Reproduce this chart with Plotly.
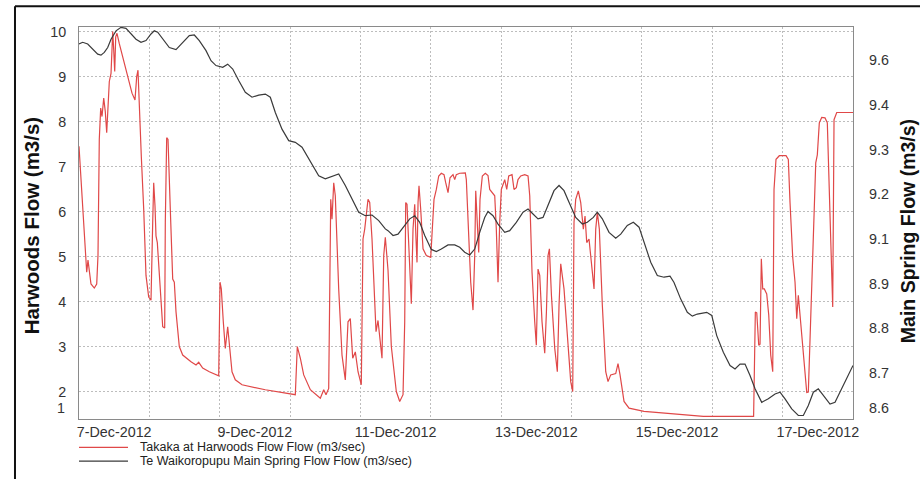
import pandas as pd
import plotly.graph_objects as go

START = pd.Timestamp("2012-12-07 00:00")

# ---- Takaka at Harwoods flow (left axis), hours since 7-Dec-2012 00:00 ----
harwoods_hours = [
    0.0, 1.26, 2.15, 2.63, 3.07, 3.51, 4.09, 5.22, 6.04, 6.48, 6.92, 7.40, 7.85, 8.43, 8.97,
    9.45, 9.99, 10.34, 10.92, 11.50, 11.84, 12.18, 12.52, 12.96, 13.75, 14.91, 16.61, 18.08,
    19.10, 19.68, 20.12, 20.57, 21.25, 22.07, 22.85, 23.77, 24.56, 25.14, 25.48, 25.92, 26.26,
    26.71, 27.63, 28.55, 29.23, 29.44, 29.91, 30.36, 31.14, 31.96, 32.51, 33.09, 34.21, 35.37,
    38.20, 39.91, 40.83, 42.19, 44.45, 47.65, 48.10, 48.54, 49.22, 49.90, 50.72, 51.27, 52.19,
    53.31, 55.60, 63.55, 73.78, 74.46, 75.49, 76.65, 78.90, 82.31, 83.47, 84.25, 85.17, 85.86,
    86.30, 86.88, 87.42, 88.58, 89.71, 90.83, 91.76, 92.54, 93.36, 94.25, 95.17, 96.29, 96.87,
    97.45, 97.90, 98.58, 99.16, 99.94, 101.31, 101.99, 103.35, 103.94, 104.48, 105.40, 106.53,
    108.23, 109.39, 110.52, 111.10, 111.44, 111.88, 112.57, 113.35, 113.93, 114.51, 114.95,
    115.29, 115.64, 115.97, 116.55, 117.34, 118.47, 119.97, 120.51, 121.09, 121.88, 122.70,
    123.58, 124.50, 125.08, 125.87, 126.55, 127.57, 128.15, 128.70, 129.86, 131.77, 132.11,
    132.69, 133.61, 134.39, 134.97, 135.32, 135.86, 136.34, 136.78, 137.57, 138.59, 139.51,
    140.09, 140.87, 141.80, 142.34, 142.92, 143.50, 144.05, 145.21, 145.89, 146.57, 147.70,
    148.38, 149.16, 149.74, 150.67, 152.03, 153.16, 153.74, 154.52, 155.44, 155.99, 156.57,
    157.15, 157.93, 158.85, 159.43, 159.98, 160.45, 161.14, 162.27, 163.15, 163.73, 164.31,
    165.43, 166.56, 167.72, 168.40, 168.84, 169.42, 170.31, 171.13, 172.02, 172.60, 173.18,
    173.96, 174.74, 175.67, 176.25, 176.79, 177.48, 178.50, 179.66, 180.44, 181.36, 183.07,
    183.85, 184.54, 185.90, 187.61, 192.72, 204.08, 212.95, 229.90, 230.10, 230.69, 231.17,
    231.85, 232.29, 232.73, 233.21, 233.75, 234.57, 235.26, 235.94, 236.62, 237.06, 237.74,
    238.87, 241.16, 241.94, 242.52, 243.44, 244.23, 244.81, 245.35, 245.93, 247.06, 248.22,
    248.76, 249.58, 250.47, 251.29, 251.83, 252.51, 253.33, 254.46, 255.24, 256.16, 256.74,
    257.08, 257.53, 258.45, 264.0,
]
harwoods_flow = [
    7.45, 6.05, 5.03, 4.65, 4.92, 4.72, 4.39, 4.30, 4.39, 5.03, 7.60, 8.30, 8.11, 8.52, 8.22,
    7.75, 8.63, 8.89, 9.07, 10.0, 9.59, 9.11, 9.88, 9.96, 9.73, 9.44, 9.00, 8.63,
    8.48, 9.00, 9.14, 8.26, 7.23, 6.05, 4.58, 4.10, 4.03, 5.76, 6.64, 6.13, 5.46,
    5.31, 4.28, 3.44, 3.41, 5.76, 7.64, 7.60, 6.05, 4.50, 4.43, 3.77, 3.00, 2.81,
    2.66, 2.59, 2.65, 2.52, 2.44, 2.35, 4.43, 4.28, 3.55, 2.96, 3.44, 3.11, 2.44,
    2.26, 2.15, 2.04, 1.93, 3.00, 2.74, 2.37, 2.04, 1.85, 2.04, 1.93, 2.07, 6.27,
    5.83, 6.64, 6.35, 4.28, 2.81, 2.26, 3.55, 3.62, 2.74, 2.88, 2.44, 2.15, 5.39,
    5.61, 5.90, 6.27, 6.20, 5.39, 3.33, 3.58, 2.74, 5.02, 5.43, 4.70, 3.00,
    2.00, 1.78, 1.93, 3.55, 6.20, 6.16, 5.02, 3.95, 5.61, 6.16, 5.39,
    4.87, 6.20, 6.57, 6.05, 5.17, 5.02, 4.98, 5.61, 6.27, 6.49, 6.79,
    6.85, 6.82, 6.64, 6.42, 6.75, 6.82, 6.71, 6.82, 6.85, 6.86, 6.71,
    5.76, 4.43, 3.81, 5.02, 6.46, 5.76, 5.09, 6.27, 6.79, 6.85, 6.80,
    6.49, 6.42, 6.35, 5.61, 4.43, 5.76, 6.49, 6.71, 6.49, 6.79, 6.82,
    6.49, 6.53, 6.71, 6.79, 6.82, 6.79, 6.35, 4.65, 3.55, 3.03, 4.72,
    4.58, 3.55, 2.85, 3.77, 5.02, 5.17, 4.14, 2.96, 2.44, 3.92, 4.84,
    4.28, 3.18, 2.22, 2.00, 5.76, 6.27, 6.46, 6.20, 5.61, 5.90, 5.31,
    5.39, 4.80, 4.28, 5.61, 5.98, 5.61, 3.92, 2.44, 2.22, 2.37, 2.40,
    2.62, 2.37, 1.78, 1.63, 1.56, 1.49, 1.45, 1.45, 1.45, 3.77, 3.75,
    3.03, 3.05, 4.95, 4.28, 4.28, 4.17, 3.70, 2.81, 2.44, 6.49, 7.16,
    7.24, 7.24, 7.16, 6.20, 4.98, 4.43, 3.62, 4.14, 3.70, 2.81, 1.98,
    1.99, 3.55, 5.61, 7.08, 7.26, 7.97, 8.09, 8.08, 7.97, 5.76, 4.28,
    3.88, 8.04, 8.20, 8.20,
]

# ---- Te Waikoropupu Main Spring flow (right axis) ----
spring_hours = [
    0.0, 1.26, 2.97, 4.67, 6.38, 7.50, 8.63, 9.79, 10.92, 12.62, 14.33, 16.03, 17.74, 19.44,
    21.15, 22.85, 24.56, 25.68, 26.84, 28.55, 30.80, 33.09, 35.37, 37.62, 39.33, 41.03, 43.32,
    45.03, 46.73, 49.02, 50.72, 52.43, 54.47, 56.73, 59.01, 61.30, 63.55, 65.25, 66.96, 69.24,
    71.53, 73.78, 76.07, 78.90, 81.76, 84.01, 86.30, 88.58, 90.83, 93.12, 95.41, 97.66, 99.94,
    102.23, 104.48, 105.40, 107.11, 108.81, 111.10, 112.80, 114.51, 116.21, 117.92, 120.17,
    121.88, 123.58, 125.87, 128.15, 129.86, 131.56, 133.27, 134.97, 136.68, 138.38, 139.51,
    141.21, 142.92, 145.21, 146.91, 149.16, 151.45, 153.16, 154.86, 156.57, 158.27, 160.32,
    162.02, 163.73, 165.43, 167.14, 169.42, 171.68, 173.38, 175.43, 176.79, 178.50, 180.78,
    183.07, 184.77, 187.02, 189.07, 191.02, 192.72, 195.01, 197.26, 199.54, 201.59, 202.95,
    205.24, 207.49, 209.20, 210.90, 214.11, 215.82, 217.52, 219.77, 222.06, 223.76, 225.47,
    227.17, 228.88, 230.59, 232.87, 235.12, 237.41, 239.11, 240.82, 243.10, 245.35, 247.06,
    248.76, 250.47, 252.17, 253.88, 256.16, 257.87, 259.57, 261.86, 264.0,
]
spring_flow = [
    9.647, 9.652, 9.647, 9.633, 9.618, 9.615, 9.623, 9.637, 9.661, 9.685, 9.695, 9.692, 9.676, 9.661,
    9.652, 9.657, 9.676, 9.685, 9.681, 9.661, 9.637, 9.631, 9.652, 9.671, 9.673, 9.657, 9.628,
    9.599, 9.585, 9.580, 9.589, 9.575, 9.542, 9.508, 9.494, 9.500, 9.503, 9.494, 9.450, 9.402,
    9.369, 9.364, 9.350, 9.307, 9.268, 9.259, 9.266, 9.273, 9.240, 9.201, 9.163, 9.153, 9.155,
    9.139, 9.115, 9.110, 9.096, 9.100, 9.125, 9.144, 9.153, 9.134, 9.096, 9.056,
    9.050, 9.057, 9.069, 9.069, 9.062, 9.048, 9.040, 9.057, 9.105, 9.148, 9.165,
    9.153, 9.129, 9.105, 9.110, 9.134, 9.163, 9.172, 9.158, 9.144, 9.148, 9.192,
    9.225, 9.240, 9.225, 9.192, 9.148, 9.129, 9.134, 9.148, 9.163, 9.144, 9.105,
    9.088, 9.100, 9.125, 9.134, 9.120, 9.077, 9.019, 8.981, 8.976, 8.979, 8.961,
    8.913, 8.875, 8.864, 8.870, 8.875, 8.866, 8.808, 8.760, 8.722, 8.712, 8.726,
    8.726, 8.693, 8.655, 8.616, 8.626, 8.640, 8.645, 8.626, 8.597, 8.578, 8.578,
    8.607, 8.645, 8.655, 8.636, 8.611, 8.616, 8.645, 8.683, 8.722,
]

# ---- axes ----
date_tick_vals = ["2012-12-07 12:00", "2012-12-09 12:00", "2012-12-11 12:00",
                  "2012-12-13 12:00", "2012-12-15 12:00", "2012-12-17 12:00"]
date_tick_text = ["7-Dec-2012", "9-Dec-2012", "11-Dec-2012",
                  "13-Dec-2012", "15-Dec-2012", "17-Dec-2012"]
day_grid = ["2012-12-%02d" % d for d in range(8, 18)]

harwoods_ticks = [2, 3, 4, 5, 6, 7, 8, 9, 10]
spring_tick_vals = [9.6, 9.4714, 9.3429, 9.2143, 9.0857, 8.9571, 8.8286, 8.7, 8.6]
spring_tick_text = ["9.6", "9.4", "9.3", "9.2", "9.1", "8.9", "8.8", "8.7", "8.6"]

series_names = ["Takaka at Harwoods Flow Flow (m3/sec)",
                "Te Waikoropupu Main Spring Flow Flow (m3/sec)"]
RED = "#e04848"
DARK = "#3a3a3a"
GRID = "#bdbdbd"

hx = START + pd.to_timedelta(harwoods_hours, unit="h")
sx = START + pd.to_timedelta(spring_hours, unit="h")

FONT = "Arial, Liberation Sans, sans-serif"

fig = go.Figure()
fig.add_trace(go.Scatter(x=hx, y=harwoods_flow, mode="lines", name=series_names[0],
                         line=dict(color=RED, width=1.2), yaxis="y"))
fig.add_trace(go.Scatter(x=sx, y=spring_flow, mode="lines", name=series_names[1],
                         line=dict(color=DARK, width=1.2), yaxis="y2"))

# legend drawn manually (tight rows like the original)
legend_rows = [(-0.0722, RED, series_names[0]), (-0.1077, DARK, series_names[1])]
shapes = []
annotations = []
for yy, col, txt in legend_rows:
    shapes.append(dict(type="line", xref="paper", yref="paper", x0=0.0, x1=0.0633,
                       y0=yy, y1=yy, line=dict(color=col, width=1.2)))
    annotations.append(dict(xref="paper", yref="paper", x=0.0762, y=yy, text=txt,
                            showarrow=False, xanchor="left", yanchor="middle",
                            font=dict(family=FONT, size=12.5, color="#222222")))

# outer frame (top and left edges)
shapes.append(dict(type="line", xref="paper", yref="paper", x0=-0.0827, x1=1.2,
                   y0=1.0528, y1=1.0528, line=dict(color="#111111", width=2)))
shapes.append(dict(type="line", xref="paper", yref="paper", x0=-0.0827, x1=-0.0827,
                   y0=1.0528, y1=-0.3, line=dict(color="#111111", width=2)))

# axis titles and the stray "1" label
annotations.append(dict(xref="paper", yref="paper", x=-0.062, y=0.494,
                        text="<b>Harwoods Flow (m3/s)</b>", textangle=-90, showarrow=False,
                        xanchor="center", yanchor="middle",
                        font=dict(family=FONT, size=20.5, color="#111111")))
annotations.append(dict(xref="paper", yref="paper", x=1.0705, y=0.478,
                        text="<b>Main Spring Flow (m3/s)</b>", textangle=-90, showarrow=False,
                        xanchor="center", yanchor="middle",
                        font=dict(family=FONT, size=19.5, color="#111111")))
annotations.append(dict(xref="paper", yref="paper", x=-0.0155, y=0.0273, text="1",
                        showarrow=False, xanchor="right", yanchor="middle",
                        font=dict(family=FONT, size=14.3, color="#333333")))

fig.update_layout(
    width=920, height=479,
    margin=dict(l=79, r=67, t=27, b=60),
    paper_bgcolor="white", plot_bgcolor="white",
    showlegend=False,
    font=dict(family=FONT, size=14.3, color="#333333"),
    shapes=shapes, annotations=annotations,
    xaxis=dict(
        type="date", range=["2012-12-07 00:00", "2012-12-18 00:00"],
        tickmode="array", tickvals=date_tick_vals, ticktext=date_tick_text,
        showgrid=False, ticks="", ticklabelstandoff=0,
        showline=True, mirror=True, linecolor="#8a8a8a", linewidth=1,
        minor=dict(tickmode="array", tickvals=day_grid, showgrid=True,
                   gridcolor=GRID, griddash="2px,2px", gridwidth=1, ticks=""),
        zeroline=False,
    ),
    yaxis=dict(
        range=[1.39, 10.10], tickmode="array", tickvals=harwoods_ticks,
        showgrid=True, gridcolor=GRID, griddash="2px,2px", gridwidth=1,
        ticks="", ticklabelstandoff=9,
        showline=True, mirror=True, linecolor="#8a8a8a", linewidth=1, zeroline=False,
    ),
    yaxis2=dict(
        range=[8.568, 9.696], overlaying="y", side="right",
        tickmode="array", tickvals=spring_tick_vals, ticktext=spring_tick_text,
        showgrid=False, ticks="", ticklabelstandoff=15, zeroline=False, showline=False,
    ),
)

fig.write_html("out.html", config={"displayModeBar": False},
               post_script="document.body.style.margin='0';document.body.style.overflow='hidden';")
